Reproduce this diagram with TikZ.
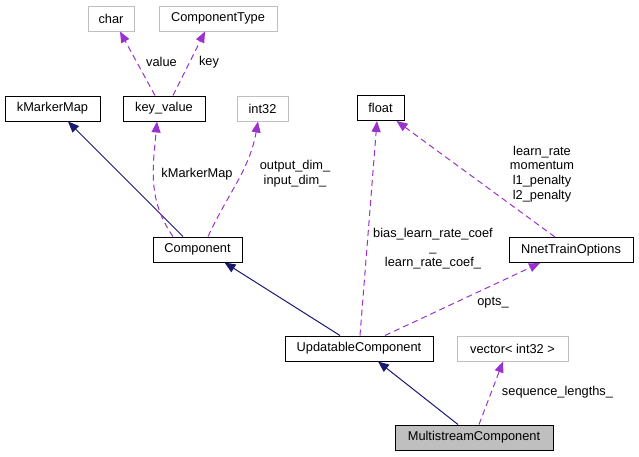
\documentclass[tikz,border=0pt]{standalone}
\usepackage{fontspec}
\setmainfont{Liberation Sans}
\usetikzlibrary{arrows.meta,positioning}
\definecolor{inhnavy}{HTML}{191970}
\definecolor{usepurple}{HTML}{9A32CD}
\definecolor{extgray}{HTML}{BFBFBF}

\begin{document}
\begin{tikzpicture}[x=1pt,y=-1pt,
    box/.style={draw,line width=1pt,minimum height=25pt,inner sep=0pt,font=\fontsize{12.8}{14.7}\selectfont},
    ext/.style={box,draw=extgray},
    inherit/.style={draw=inhnavy,line width=1pt,-{Triangle[length=11pt,width=9pt]}},
    usage/.style={draw=usepurple,line width=1pt,dash pattern=on 6pt off 4pt,-{Triangle[length=11pt,width=9pt,fill=usepurple]}},
    lbl/.style={font=\fontsize{12.8}{14.7}\selectfont,align=center,inner sep=0pt}]
    \useasboundingbox (0,0) rectangle (639,456);
    \node [ext,minimum width=46pt] (char) at (111,18.5) {char};
    \node [ext,minimum width=118pt] (ctype) at (218,18.5) {ComponentType};
    \node [box,minimum width=95pt] (kmap) at (52.5,108.5) {kMarkerMap};
    \node [box,minimum width=82pt] (keyvalue) at (164,108.5) {key\_value};
    \node [ext,minimum width=51pt] (int) at (262.5,108.5) {int32};
    \node [box,minimum width=47pt] (float) at (380.5,108) {float};
    \node [box,minimum width=89pt] (comp) at (197.5,249.5) {Component};
    \node [box,minimum width=124pt] (opts) at (571,250) {NnetTrainOptions};
    \node [box,minimum width=148pt] (upd) at (359,348.5) {UpdatableComponent};
    \node [ext,minimum width=111pt] (vec) at (512.5,348.5) {vector< int32 >};
    \node [box,fill=extgray,minimum width=158pt] (multi) at (474,437.5) {MultistreamComponent};
    \path[inherit] ([xshift=-14.5pt]comp.north) -- ([xshift=15.5pt]kmap.south);
    \path[inherit] ([xshift=-19pt]upd.north) -- ([xshift=27pt]comp.south);
    \path[inherit] ([xshift=-16pt]multi.north) -- ([xshift=19pt]upd.south);
    \path[usage] ([xshift=-9pt]keyvalue.north) -- ([xshift=9pt]char.south);
    \path[usage] ([xshift=9pt]keyvalue.north) -- ([xshift=-13pt]ctype.south);
    \path[usage] ([xshift=-24.5pt]comp.north) to[out=125,in=-95] ([xshift=-7pt]keyvalue.south);
    \path[usage] ([xshift=10.5pt]comp.north) to[out=65,in=-100] ([xshift=-4.5pt]int.south);
    \path[usage] ([xshift=1pt]upd.north) -- ([xshift=-3.5pt]float.south);
    \path[usage] ([xshift=-16pt]opts.north) -- ([xshift=16pt]float.south);
    \path[usage] ([xshift=26pt]upd.north) -- ([xshift=-31pt]opts.south);
    \path[usage] ([xshift=5pt]multi.north) -- ([xshift=-9.5pt]vec.south);
    \node [lbl] (lvalue) at (161.5,62) {value};
    \node [lbl] (lkey) at (209,62) {key};
    \node [lbl] (lkmap) at (197,174) {kMarkerMap};
    \node [lbl] (ldim) at (295,174) {output\_dim\_\\input\_dim\_};
    \node [lbl] (lcoef) at (433,248.5) {bias\_learn\_rate\_coef\\\_\\learn\_rate\_coef\_};
    \node [lbl] (lrate) at (542,174) {learn\_rate\\momentum\\l1\_penalty\\l2\_penalty};
    \node [lbl] (lopts) at (493,303) {opts\_};
    \node [lbl] (lseq) at (557.5,392) {sequence\_lengths\_};
  \end{tikzpicture}
\end{document}
